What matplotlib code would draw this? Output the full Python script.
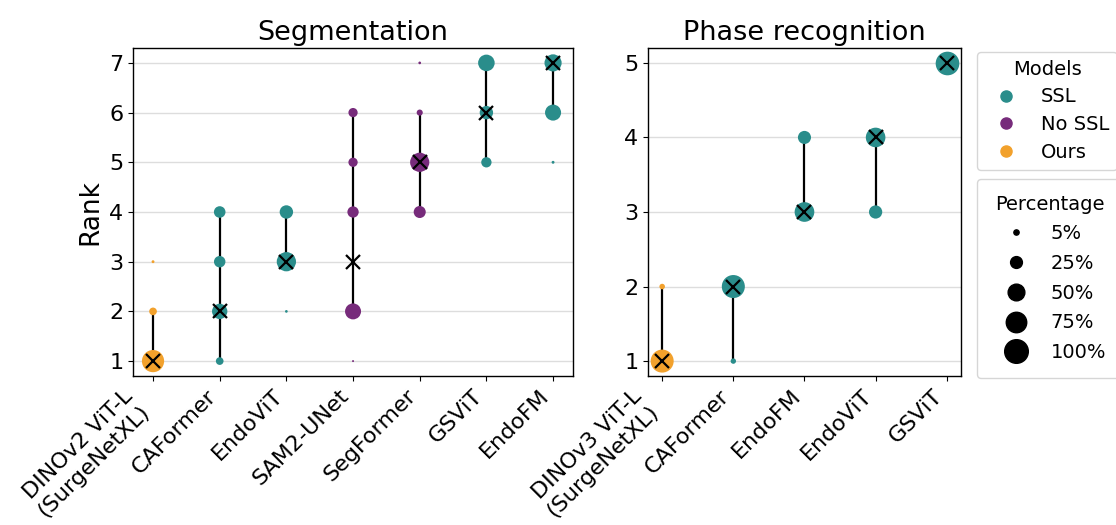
import matplotlib
matplotlib.use("Agg")
import matplotlib.pyplot as plt
from matplotlib.lines import Line2D
import numpy as np

# colours per model type
type_colors = {"SSL": "#2a8d8b", "No SSL": "#772b7b", "Ours": "#f2a12c"}

# Segmentation ranks (rank -> share of runs, %)
seg_models = ["DINOv2 ViT-L\n(SurgeNetXL)", "CAFormer", "EndoViT", "SAM2-UNet",
              "SegFormer", "GSViT", "EndoFM"]
seg_types = ["Ours", "SSL", "SSL", "No SSL", "No SSL", "SSL", "SSL"]
seg_ranks = [[1, 2, 3], [1, 2, 3, 4], [2, 3, 4], [1, 2, 4, 5, 6],
             [4, 5, 6, 7], [5, 6, 7], [5, 6, 7]]
seg_pcts = [[88, 10.5, 1.5], [10.5, 42, 23.5, 24], [1.3, 66.5, 32.2],
            [0.7, 45.7, 22.9, 15.4, 15.3], [26, 66, 6.7, 1.3],
            [19, 32, 49], [1.5, 46, 52.5]]
seg_medians = [1, 2, 3, 3, 5, 6, 7]

# Phase recognition ranks
phase_models = ["DINOv3 ViT-L\n(SurgeNetXL)", "CAFormer", "EndoFM", "EndoViT", "GSViT"]
phase_types = ["Ours", "SSL", "SSL", "SSL", "SSL"]
phase_ranks = [[1, 2], [1, 2], [3, 4], [3, 4], [5]]
phase_pcts = [[94.5, 5.5], [5.2, 94.8], [69.3, 30.7], [31.4, 68.6], [100]]
phase_medians = [1, 2, 3, 4, 5]

legend_pcts = [5, 25, 50, 75, 100]
SIZE = 2.9  # marker area (pt^2) per percent


def draw(ax, models, types, ranks, pcts, medians, title):
    for i, (r, p, t) in enumerate(zip(ranks, pcts, types)):
        r = np.array(r)
        p = np.array(p)
        kept = r[p >= 5]
        if kept.min() != kept.max():
            ax.plot([i, i], [kept.min(), kept.max()], color="black", lw=1.6, zorder=2)
        ax.scatter(np.full(len(r), i), r, s=p * SIZE, color=type_colors[t],
                   linewidths=0, zorder=3)
    ax.plot(range(len(models)), medians, ls="", marker="x", color="black",
            markersize=9.5, mew=1.6, zorder=4)
    ax.set_xticks(range(len(models)))
    ax.set_xticklabels(models, rotation=45, ha="right", fontsize=16)
    ax.set_yticks(range(1, max(max(r) for r in ranks) + 1))
    ax.tick_params(axis="y", labelsize=16)
    ax.grid(axis="y", color="#dddddd", lw=1, zorder=0)
    ax.set_axisbelow(True)
    ax.set_title(title, fontsize=19.5)
    for sp in ax.spines.values():
        sp.set_linewidth(1.0)


fig = plt.figure(figsize=(11.16, 5.25), dpi=100)
ax1 = fig.add_axes([0.1192, 0.2838, 0.3943, 0.6248])
ax2 = fig.add_axes([0.5806, 0.2838, 0.2805, 0.6248])

draw(ax1, seg_models, seg_types, seg_ranks, seg_pcts, seg_medians, "Segmentation")
draw(ax2, phase_models, phase_types, phase_ranks, phase_pcts, phase_medians,
     "Phase recognition")
ax1.set_ylabel("Rank", fontsize=19)

type_handles = [Line2D([], [], ls="", marker="o", markersize=8, color=type_colors[k],
                       label=k) for k in ["SSL", "No SSL", "Ours"]]
leg1 = ax2.legend(handles=type_handles, title="Models", loc="upper left",
                  bbox_to_anchor=(1.051, 0.988), borderaxespad=0, fontsize=14,
                  title_fontsize=14, handlelength=2.2, handletextpad=0.7,
                  labelspacing=0.45)
ax2.add_artist(leg1)

size_handles = [Line2D([], [], ls="", marker="o", color="black",
                       markersize=np.sqrt(p * SIZE), label=f"{p}%") for p in legend_pcts]
ax2.legend(handles=size_handles, title="Percentage", loc="upper left",
           bbox_to_anchor=(1.051, 0.6006), borderaxespad=0, fontsize=14,
           title_fontsize=14, borderpad=0.8, handlelength=2.4, handletextpad=0.6,
           labelspacing=0.55)

fig.savefig("out.png", dpi=100)
